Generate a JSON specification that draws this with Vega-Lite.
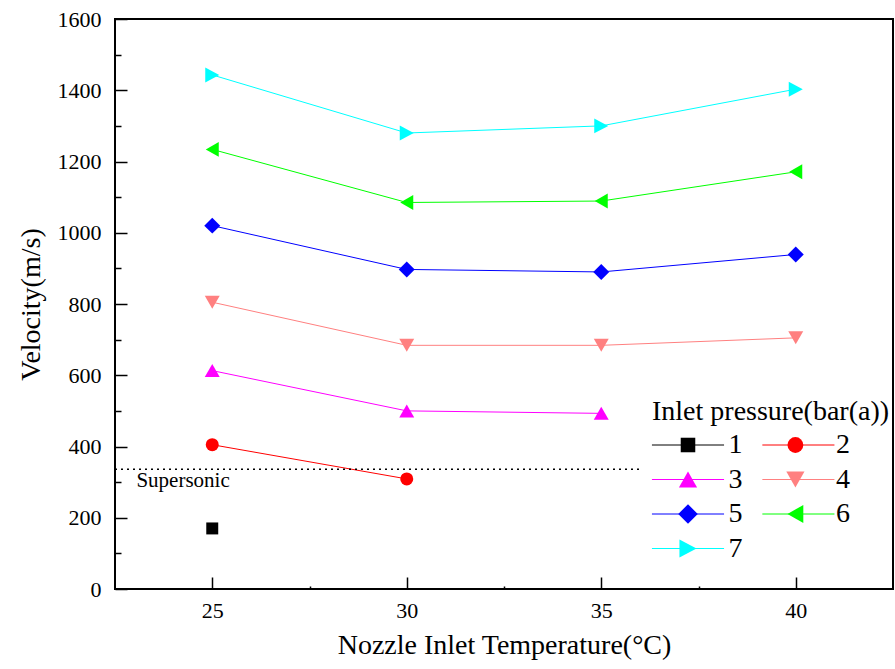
{
  "$schema": "https://vega.github.io/schema/vega-lite/v6.json",
  "width": 778,
  "height": 570,
  "autosize": {"type": "none"},
  "padding": {"left": 115, "top": 19, "right": 2, "bottom": 80},
  "background": "white",
  "config": {
    "view": {"stroke": "#000000", "strokeWidth": 2},
    "font": "Liberation Serif",
    "axis": {
      "domain": false, "grid": false,
      "labelFont": "Liberation Serif", "titleFont": "Liberation Serif",
      "labelColor": "#000000", "titleColor": "#000000", "tickColor": "#000000",
      "titleFontWeight": "normal", "tickWidth": 1.5, "format": "d"
    },
    "legend": {
      "orient": "none", "legendX": 537, "legendY": 379, "columns": 2, "direction": "horizontal",
      "titleFont": "Liberation Serif", "titleFontSize": 28, "titleFontWeight": "normal", "titleColor": "#000000", "titlePadding": 5, "titleLimit": 500,
      "labelFont": "Liberation Serif", "labelFontSize": 28, "labelColor": "#000000", "labelLimit": 200,
      "symbolSize": 250, "symbolStrokeWidth": 1, "symbolOffset": 22, "labelOffset": 26.6, "symbolOpacity": 1,
      "columnPadding": 16.4, "rowPadding": 6.5, "padding": 0
    }
  },
  "data": {"values": [
    {"T": 25, "v": 170, "p": "1"},
    {"T": 25, "v": 405, "p": "2"},
    {"T": 30, "v": 309, "p": "2"},
    {"T": 25, "v": 613, "p": "3"},
    {"T": 30, "v": 500, "p": "3"},
    {"T": 35, "v": 493, "p": "3"},
    {"T": 25, "v": 805, "p": "4"},
    {"T": 30, "v": 684, "p": "4"},
    {"T": 35, "v": 684, "p": "4"},
    {"T": 40, "v": 705, "p": "4"},
    {"T": 25, "v": 1020, "p": "5"},
    {"T": 30, "v": 897, "p": "5"},
    {"T": 35, "v": 890, "p": "5"},
    {"T": 40, "v": 939, "p": "5"},
    {"T": 25, "v": 1234, "p": "6"},
    {"T": 30, "v": 1085, "p": "6"},
    {"T": 35, "v": 1089, "p": "6"},
    {"T": 40, "v": 1171, "p": "6"},
    {"T": 25, "v": 1443, "p": "7"},
    {"T": 30, "v": 1280, "p": "7"},
    {"T": 35, "v": 1300, "p": "7"},
    {"T": 40, "v": 1403, "p": "7"}
  ]},
  "resolve": {"axis": {"x": "independent", "y": "independent"}},
  "layer": [
    {
      "mark": {"type": "line", "strokeWidth": 1},
      "encoding": {
        "x": {"field": "T", "type": "quantitative",
          "scale": {"domain": [22.5, 42.5], "nice": false, "zero": false},
          "axis": {"orient": "bottom", "values": [25, 30, 35, 40], "tickSize": -12, "labelPadding": 23, "labelFontSize": 22,
            "title": "Nozzle Inlet Temperature(°C)", "titleFontSize": 28, "titlePadding": 10}},
        "y": {"field": "v", "type": "quantitative",
          "scale": {"domain": [0, 1600], "nice": false},
          "axis": {"orient": "left", "values": [0, 200, 400, 600, 800, 1000, 1200, 1400, 1600], "tickSize": -12, "labelPadding": 26, "labelFontSize": 22,
            "title": "Velocity(m/s)", "titleFontSize": 28, "titlePadding": 12}},
        "stroke": {"field": "p", "type": "nominal",
          "scale": {"range": ["#000000", "#FF0000", "#FF00FF", "#FF8080", "#0000FF", "#00FF00", "#00FFFF"]},
          "legend": {"title": null, "legendY": 412, "labelExpr": "''", "columnPadding": 30.4, "symbolType": "M-4.56,0H4.56", "symbolStrokeWidth": 1}}
      }
    },
    {
      "mark": {"type": "point", "filled": true, "size": 169, "opacity": 1},
      "encoding": {
        "x": {"field": "T", "type": "quantitative",
          "axis": {"orient": "bottom", "values": [27.5, 32.5, 37.5], "tickSize": -3, "labels": false, "title": null}},
        "y": {"field": "v", "type": "quantitative",
          "axis": {"orient": "left", "values": [100, 300, 500, 700, 900, 1100, 1300, 1500], "tickSize": -6, "labels": false, "title": null}},
        "fill": {"field": "p", "type": "nominal",
          "scale": {"domain": ["1", "2", "3", "4", "5", "6", "7"], "range": ["#000000", "#FF0000", "#FF00FF", "#FF8080", "#0000FF", "#00FF00", "#00FFFF"]},
          "legend": {"title": "Inlet pressure(bar(a))"}},
        "shape": {"field": "p", "type": "nominal",
          "scale": {"domain": ["1", "2", "3", "4", "5", "6", "7"],
            "range": ["M-0.92,-0.92H0.92V0.92H-0.92Z", "circle", "M0,-1L1.15,1L-1.15,1Z", "M0,1L1.15,-1L-1.15,-1Z", "M0,-1.23L1.23,0L0,1.23L-1.23,0Z", "M-1,0L1,-1.15L1,1.15Z", "M1.08,0L-1.08,-1.15L-1.08,1.15Z"]},
          "legend": {"title": "Inlet pressure(bar(a))"}}
      }
    },
    {
      "data": {"values": [{"speed": 336, "label": "Supersonic"}]},
      "mark": {"type": "rule", "strokeDash": [2, 4], "color": "#000000", "strokeWidth": 1.5},
      "encoding": {
        "x": {"datum": 22.5, "type": "quantitative", "axis": null},
        "x2": {"datum": 36},
        "y": {"field": "speed", "type": "quantitative", "axis": null}
      }
    },
    {
      "data": {"values": [{"speed": 336, "label": "Supersonic"}]},
      "mark": {"type": "text", "align": "left", "baseline": "top", "fontSize": 21, "font": "Liberation Serif", "color": "#000000", "dy": 1},
      "encoding": {
        "x": {"datum": 23.05, "type": "quantitative", "axis": null},
        "y": {"field": "speed", "type": "quantitative", "axis": null},
        "text": {"field": "label"}
      }
    }
  ]
}
